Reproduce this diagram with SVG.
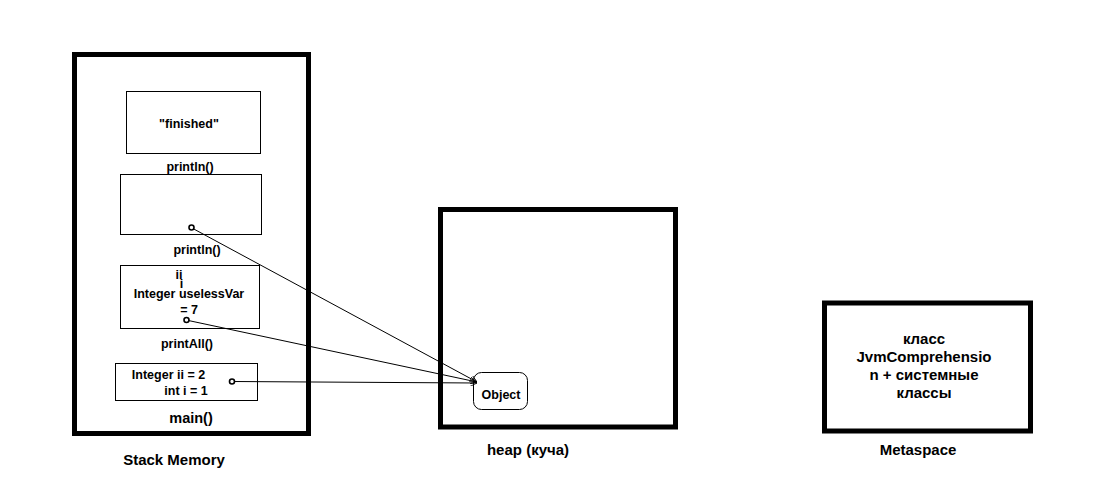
<svg xmlns="http://www.w3.org/2000/svg" width="1101" height="503" viewBox="0 0 1101 503">
<style>
text{font-family:"Liberation Sans",Arial,sans-serif;font-weight:bold;fill:#000;text-anchor:middle}
.s{font-size:12.5px}
.l{font-size:15px}
.thick{fill:#fff;stroke:#000;stroke-width:5}
.box{fill:#fff;stroke:#000;stroke-width:1}
.dot{fill:#fff;stroke:#000;stroke-width:1.6}
.con{fill:none;stroke:#000;stroke-width:1;marker-end:url(#arr)}
</style>
<defs>
<marker id="arr" viewBox="0 0 10 10" refX="10" refY="5" markerWidth="7" markerHeight="7" markerUnits="userSpaceOnUse" orient="auto">
<path d="M0,0 L10,5 L0,10" fill="none" stroke="#000" stroke-width="1.2"/>
</marker>
</defs>
<rect width="1101" height="503" fill="#fff"/>
<g id="stack">
<rect class="thick" x="74.5" y="54.5" width="234" height="379"/>
<text class="l" x="174" y="465">Stack Memory</text>
</g>
<g id="frame-println-finished">
<rect class="box" x="126.5" y="91.5" width="134" height="62"/>
<text class="s" x="189" y="127.5">"finished"</text>
<text class="s" x="190" y="170.5">println()</text>
</g>
<g id="frame-println">
<rect class="box" x="120.5" y="174.5" width="141" height="60"/>
<text class="s" x="197" y="254">println()</text>
</g>
<g id="frame-printAll">
<rect class="box" x="120.5" y="265.5" width="139" height="63"/>
<text class="s" x="179" y="278.5">ii</text>
<text class="s" x="181.5" y="287.5">i</text>
<text class="s" x="189" y="298">Integer uselessVar</text>
<text class="s" x="189" y="314">= 7</text>
<text class="s" x="187" y="347.5">printAll()</text>
</g>
<g id="frame-main">
<rect class="box" x="115.5" y="363.5" width="142" height="37"/>
<text class="s" x="168.5" y="378.5">Integer ii = 2</text>
<text class="s" x="186" y="394.5">int i = 1</text>
<text x="191" y="423" style="font-size:14.5px">main()</text>
</g>
<g id="heap">
<rect class="thick" x="440.5" y="209.5" width="235" height="217.5"/>
<text class="l" x="528" y="455">heap (куча)</text>
</g>
<g id="object">
<rect class="box" x="473.5" y="372.5" width="54" height="37" rx="8" ry="8"/>
<text class="s" x="501" y="398.5">Object</text>
</g>
<g id="metaspace">
<rect class="thick" x="824.5" y="303" width="206" height="128"/>
<text class="l" x="924" y="344">класс</text>
<text class="l" x="924" y="362">JvmComprehensio</text>
<text class="l" x="924" y="380">n + системные</text>
<text class="l" x="924" y="397.5">классы</text>
<text class="l" x="918" y="455">Metaspace</text>
</g>
<g id="connectors">
<line class="con" x1="191" y1="227.5" x2="477" y2="382"/>
<line class="con" x1="186" y1="320" x2="477" y2="382"/>
<line class="con" x1="232" y1="381.5" x2="477" y2="383"/>
<circle class="dot" cx="191.5" cy="227.5" r="2.5"/>
<circle class="dot" cx="186.5" cy="320" r="2.5"/>
<circle class="dot" cx="232" cy="381.5" r="2.5"/>
</g>
</svg>
